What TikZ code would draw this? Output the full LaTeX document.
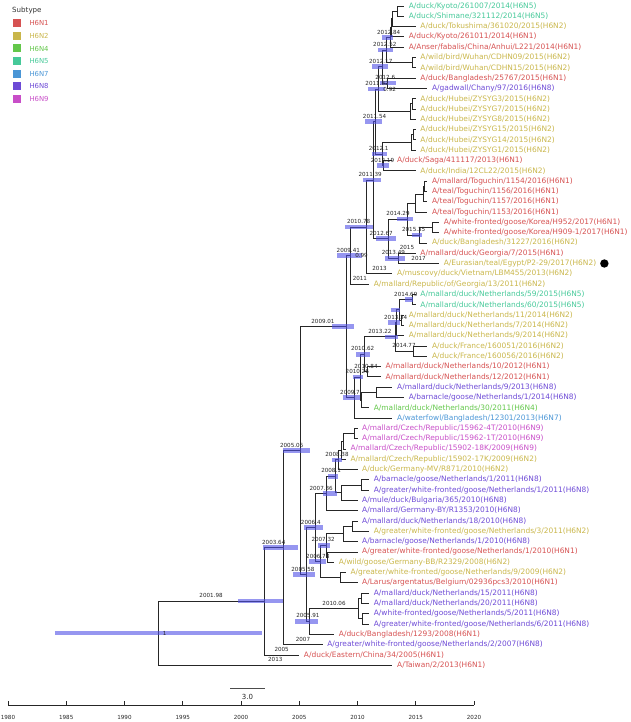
\documentclass[tikz,border=0pt]{standalone}
\usepackage{fontspec}
\setmainfont{DejaVu Sans}
\usetikzlibrary{calc}
\definecolor{hn1}{RGB}{214,82,82}
\definecolor{hn2}{RGB}{201,182,74}
\definecolor{hn4}{RGB}{99,199,74}
\definecolor{hn5}{RGB}{70,201,153}
\definecolor{hn7}{RGB}{74,150,214}
\definecolor{hn8}{RGB}{109,74,214}
\definecolor{hn9}{RGB}{200,78,200}
\definecolor{hpdblue}{RGB}{80,80,230}
% year -> horizontal position
\newcommand\yx[1]{8+11.65*(#1-1980)}
\tikzset{
  br/.style={draw=black!85, line width=0.8pt},
  hpd/.style={draw=hpdblue, line width=4.5pt, draw opacity=0.6},
  tip/.style={anchor=west, inner sep=0pt, xshift=4.5pt, font=\fontsize{7.45}{8}\selectfont},
  date/.style={anchor=south, inner sep=0pt, yshift=3.2pt, text=black!85, font=\fontsize{5.6}{6}\selectfont},
  post/.style={anchor=west, inner sep=0pt, xshift=4.5pt, text=black!85, font=\fontsize{5.6}{6}\selectfont},
}
\begin{document}
\begin{tikzpicture}[x=1pt,y=-1pt]
\useasboundingbox (0,0) rectangle (631,722);
% legend
\node[anchor=west, inner sep=0pt, text=black!80, font=\fontsize{7.1}{8}\selectfont] (leg) at (12,11) {Subtype};
\foreach \c/\lab [count=\k] in {hn1/H6N1, hn2/H6N2, hn4/H6N4, hn5/H6N5, hn7/H6N7, hn8/H6N8, hn9/H6N9} {
  \fill[\c] (12.5,{19.3+12.6*(\k-1)}) rectangle ++(8,8);
  \node[anchor=west, inner sep=0pt, text=\c, font=\fontsize{6.9}{8}\selectfont] (leg\k) at (29.3,{23.3+12.6*(\k-1)}) {\lab};
}
% tips
\coordinate (t1) at ({\yx{2014}},6.0); \node[tip,hn5] (l1) at (t1) {A/duck/Kyoto/261007/2014(H6N5)};
\coordinate (t2) at ({\yx{2014}},16.3); \node[tip,hn5] (l2) at (t2) {A/duck/Shimane/321112/2014(H6N5)};
\coordinate (t3) at ({\yx{2015}},26.6); \node[tip,hn2] (l3) at (t3) {A/duck/Tokushima/361020/2015(H6N2)};
\coordinate (t4) at ({\yx{2014}},36.9); \node[tip,hn1] (l4) at (t4) {A/duck/Kyoto/261011/2014(H6N1)};
\coordinate (t5) at ({\yx{2014}},47.2); \node[tip,hn1] (l5) at (t5) {A/Anser/fabalis/China/Anhui/L221/2014(H6N1)};
\coordinate (t6) at ({\yx{2015}},57.5); \node[tip,hn2] (l6) at (t6) {A/wild/bird/Wuhan/CDHN09/2015(H6N2)};
\coordinate (t7) at ({\yx{2015}},67.8); \node[tip,hn2] (l7) at (t7) {A/wild/bird/Wuhan/CDHN15/2015(H6N2)};
\coordinate (t8) at ({\yx{2015}},78.1); \node[tip,hn1] (l8) at (t8) {A/duck/Bangladesh/25767/2015(H6N1)};
\coordinate (t9) at ({\yx{2016}},88.4); \node[tip,hn8] (l9) at (t9) {A/gadwall/Chany/97/2016(H6N8)};
\coordinate (t10) at ({\yx{2015}},98.7); \node[tip,hn2] (l10) at (t10) {A/duck/Hubei/ZYSYG3/2015(H6N2)};
\coordinate (t11) at ({\yx{2015}},109.0); \node[tip,hn2] (l11) at (t11) {A/duck/Hubei/ZYSYG7/2015(H6N2)};
\coordinate (t12) at ({\yx{2015}},119.3); \node[tip,hn2] (l12) at (t12) {A/duck/Hubei/ZYSYG8/2015(H6N2)};
\coordinate (t13) at ({\yx{2015}},129.6); \node[tip,hn2] (l13) at (t13) {A/duck/Hubei/ZYSYG15/2015(H6N2)};
\coordinate (t14) at ({\yx{2015}},139.9); \node[tip,hn2] (l14) at (t14) {A/duck/Hubei/ZYSYG14/2015(H6N2)};
\coordinate (t15) at ({\yx{2015}},150.2); \node[tip,hn2] (l15) at (t15) {A/duck/Hubei/ZYSYG1/2015(H6N2)};
\coordinate (t16) at ({\yx{2013}},160.5); \node[tip,hn1] (l16) at (t16) {A/duck/Saga/411117/2013(H6N1)};
\coordinate (t17) at ({\yx{2015}},170.8); \node[tip,hn2] (l17) at (t17) {A/duck/India/12CL22/2015(H6N2)};
\coordinate (t18) at ({\yx{2016}},181.1); \node[tip,hn1] (l18) at (t18) {A/mallard/Toguchin/1154/2016(H6N1)};
\coordinate (t19) at ({\yx{2016}},191.4); \node[tip,hn1] (l19) at (t19) {A/teal/Toguchin/1156/2016(H6N1)};
\coordinate (t20) at ({\yx{2016}},201.7); \node[tip,hn1] (l20) at (t20) {A/teal/Toguchin/1157/2016(H6N1)};
\coordinate (t21) at ({\yx{2016}},212.0); \node[tip,hn1] (l21) at (t21) {A/teal/Toguchin/1153/2016(H6N1)};
\coordinate (t22) at ({\yx{2017}},222.3); \node[tip,hn1] (l22) at (t22) {A/white-fronted/goose/Korea/H952/2017(H6N1)};
\coordinate (t23) at ({\yx{2017}},232.6); \node[tip,hn1] (l23) at (t23) {A/white-fronted/goose/Korea/H909-1/2017(H6N1)};
\coordinate (t24) at ({\yx{2016}},242.9); \node[tip,hn2] (l24) at (t24) {A/duck/Bangladesh/31227/2016(H6N2)};
\coordinate (t25) at ({\yx{2015}},253.2); \node[tip,hn1] (l25) at (t25) {A/mallard/duck/Georgia/7/2015(H6N1)};
\coordinate (t26) at ({\yx{2017}},263.5); \node[tip,hn2] (l26) at (t26) {A/Eurasian/teal/Egypt/P2-29/2017(H6N2)};
\coordinate (t27) at ({\yx{2013}},273.8); \node[tip,hn2] (l27) at (t27) {A/muscovy/duck/Vietnam/LBM455/2013(H6N2)};
\coordinate (t28) at ({\yx{2011}},284.1); \node[tip,hn2] (l28) at (t28) {A/mallard/Republic/of/Georgia/13/2011(H6N2)};
\coordinate (t29) at ({\yx{2015}},294.4); \node[tip,hn5] (l29) at (t29) {A/mallard/duck/Netherlands/59/2015(H6N5)};
\coordinate (t30) at ({\yx{2015}},304.7); \node[tip,hn5] (l30) at (t30) {A/mallard/duck/Netherlands/60/2015(H6N5)};
\coordinate (t31) at ({\yx{2014}},315.0); \node[tip,hn2] (l31) at (t31) {A/mallard/duck/Netherlands/11/2014(H6N2)};
\coordinate (t32) at ({\yx{2014}},325.3); \node[tip,hn2] (l32) at (t32) {A/mallard/duck/Netherlands/7/2014(H6N2)};
\coordinate (t33) at ({\yx{2014}},335.6); \node[tip,hn2] (l33) at (t33) {A/mallard/duck/Netherlands/9/2014(H6N2)};
\coordinate (t34) at ({\yx{2016}},345.9); \node[tip,hn2] (l34) at (t34) {A/duck/France/160051/2016(H6N2)};
\coordinate (t35) at ({\yx{2016}},356.2); \node[tip,hn2] (l35) at (t35) {A/duck/France/160056/2016(H6N2)};
\coordinate (t36) at ({\yx{2012}},366.5); \node[tip,hn1] (l36) at (t36) {A/mallard/duck/Netherlands/10/2012(H6N1)};
\coordinate (t37) at ({\yx{2012}},376.8); \node[tip,hn1] (l37) at (t37) {A/mallard/duck/Netherlands/12/2012(H6N1)};
\coordinate (t38) at ({\yx{2013}},387.1); \node[tip,hn8] (l38) at (t38) {A/mallard/duck/Netherlands/9/2013(H6N8)};
\coordinate (t39) at ({\yx{2014}},397.4); \node[tip,hn8] (l39) at (t39) {A/barnacle/goose/Netherlands/1/2014(H6N8)};
\coordinate (t40) at ({\yx{2011}},407.7); \node[tip,hn4] (l40) at (t40) {A/mallard/duck/Netherlands/30/2011(H6N4)};
\coordinate (t41) at ({\yx{2013}},418.0); \node[tip,hn7] (l41) at (t41) {A/waterfowl/Bangladesh/12301/2013(H6N7)};
\coordinate (t42) at ({\yx{2010}},428.3); \node[tip,hn9] (l42) at (t42) {A/mallard/Czech/Republic/15962-4T/2010(H6N9)};
\coordinate (t43) at ({\yx{2010}},438.6); \node[tip,hn9] (l43) at (t43) {A/mallard/Czech/Republic/15962-1T/2010(H6N9)};
\coordinate (t44) at ({\yx{2009}},448.9); \node[tip,hn9] (l44) at (t44) {A/mallard/Czech/Republic/15902-18K/2009(H6N9)};
\coordinate (t45) at ({\yx{2009}},459.2); \node[tip,hn2] (l45) at (t45) {A/mallard/Czech/Republic/15902-17K/2009(H6N2)};
\coordinate (t46) at ({\yx{2010}},469.5); \node[tip,hn2] (l46) at (t46) {A/duck/Germany-MV/R871/2010(H6N2)};
\coordinate (t47) at ({\yx{2011}},479.8); \node[tip,hn8] (l47) at (t47) {A/barnacle/goose/Netherlands/1/2011(H6N8)};
\coordinate (t48) at ({\yx{2011}},490.1); \node[tip,hn8] (l48) at (t48) {A/greater/white-fronted/goose/Netherlands/1/2011(H6N8)};
\coordinate (t49) at ({\yx{2010}},500.4); \node[tip,hn8] (l49) at (t49) {A/mule/duck/Bulgaria/365/2010(H6N8)};
\coordinate (t50) at ({\yx{2010}},510.7); \node[tip,hn8] (l50) at (t50) {A/mallard/Germany-BY/R1353/2010(H6N8)};
\coordinate (t51) at ({\yx{2010}},521.0); \node[tip,hn8] (l51) at (t51) {A/mallard/duck/Netherlands/18/2010(H6N8)};
\coordinate (t52) at ({\yx{2011}},531.3); \node[tip,hn2] (l52) at (t52) {A/greater/white-fronted/goose/Netherlands/3/2011(H6N2)};
\coordinate (t53) at ({\yx{2010}},541.6); \node[tip,hn8] (l53) at (t53) {A/barnacle/goose/Netherlands/1/2010(H6N8)};
\coordinate (t54) at ({\yx{2010}},551.9); \node[tip,hn1] (l54) at (t54) {A/greater/white-fronted/goose/Netherlands/1/2010(H6N1)};
\coordinate (t55) at ({\yx{2008}},562.2); \node[tip,hn2] (l55) at (t55) {A/wild/goose/Germany-BB/R2329/2008(H6N2)};
\coordinate (t56) at ({\yx{2009}},572.5); \node[tip,hn2] (l56) at (t56) {A/greater/white-fronted/goose/Netherlands/9/2009(H6N2)};
\coordinate (t57) at ({\yx{2010}},582.8); \node[tip,hn1] (l57) at (t57) {A/Larus/argentatus/Belgium/02936pcs3/2010(H6N1)};
\coordinate (t58) at ({\yx{2011}},593.1); \node[tip,hn8] (l58) at (t58) {A/mallard/duck/Netherlands/15/2011(H6N8)};
\coordinate (t59) at ({\yx{2011}},603.4); \node[tip,hn8] (l59) at (t59) {A/mallard/duck/Netherlands/20/2011(H6N8)};
\coordinate (t60) at ({\yx{2011}},613.7); \node[tip,hn8] (l60) at (t60) {A/white-fronted/goose/Netherlands/5/2011(H6N8)};
\coordinate (t61) at ({\yx{2011}},624.0); \node[tip,hn8] (l61) at (t61) {A/greater/white-fronted/goose/Netherlands/6/2011(H6N8)};
\coordinate (t62) at ({\yx{2008}},634.3); \node[tip,hn1] (l62) at (t62) {A/duck/Bangladesh/1293/2008(H6N1)};
\coordinate (t63) at ({\yx{2007}},644.6); \node[tip,hn8] (l63) at (t63) {A/greater/white-fronted/goose/Netherlands/2/2007(H6N8)};
\coordinate (t64) at ({\yx{2005}},654.9); \node[tip,hn1] (l64) at (t64) {A/duck/Eastern/China/34/2005(H6N1)};
\coordinate (t65) at ({\yx{2013}},665.2); \node[tip,hn1] (l65) at (t65) {A/Taiwan/2/2013(H6N1)};
\node[circle, fill=black, inner sep=0pt, minimum size=8.4pt] (egdot) at ([xshift=8pt]l26.east) {};
% internal nodes
\coordinate (a12) at ({\yx{2013.42}},11.15);
\coordinate (a123) at ({\yx{2013.02}},18.88);
\coordinate (a1234) at ({\yx{2012.92}},27.89);
\coordinate (n2012p84) at ({\yx{2012.84}},37.54);
\coordinate (a67) at ({\yx{2014.74}},62.65);
\coordinate (n2012p52) at ({\yx{2012.52}},50.10);
\coordinate (n2012p6) at ({\yx{2012.6}},83.25);
\coordinate (n2012p17) at ({\yx{2012.17}},66.68);
\coordinate (a1011) at ({\yx{2014.72}},103.85);
\coordinate (a1012) at ({\yx{2014.57}},111.58);
\coordinate (n2011p82) at ({\yx{2011.82}},89.13);
\coordinate (a1314) at ({\yx{2014.76}},134.75);
\coordinate (a1315) at ({\yx{2014.65}},142.48);
\coordinate (n2012p19) at ({\yx{2012.19}},165.65);
\coordinate (n2012p1) at ({\yx{2012.1}},154.06);
\coordinate (n2011p54) at ({\yx{2011.54}},121.60);
\coordinate (tog12) at ({\yx{2015.75}},186.25);
\coordinate (tog123) at ({\yx{2015.65}},193.98);
\coordinate (tog) at ({\yx{2014.95}},202.99);
\coordinate (kor) at ({\yx{2016.42}},227.45);
\coordinate (n2015p35) at ({\yx{2015.35}},235.18);
\coordinate (n2014p29) at ({\yx{2014.29}},219.08);
\coordinate (n2013p49) at ({\yx{2013.49}},258.35);
\coordinate (n2012p67) at ({\yx{2012.67}},238.72);
\coordinate (n2011p39) at ({\yx{2011.39}},180.16);
\coordinate (n2010p78) at ({\yx{2010.78}},226.98);
\coordinate (n2009p41) at ({\yx{2009.41}},255.54);
\coordinate (n2014p69) at ({\yx{2014.69}},299.55);
\coordinate (a3132) at ({\yx{2013.8}},320.15);
\coordinate (u) at ({\yx{2013.6}},309.85);
\coordinate (n2013p34) at ({\yx{2013.34}},322.73);
\coordinate (n2014p77) at ({\yx{2014.77}},351.05);
\coordinate (n2013p22) at ({\yx{2013.22}},336.89);
\coordinate (n2010p84) at ({\yx{2010.84}},371.65);
\coordinate (n2010p62) at ({\yx{2010.62}},354.27);
\coordinate (a3839) at ({\yx{2011.6}},392.25);
\coordinate (z) at ({\yx{2010.32}},399.98);
\coordinate (n2010p26) at ({\yx{2010.26}},377.13);
\coordinate (n2009p7) at ({\yx{2009.7}},397.56);
\coordinate (n2009p01) at ({\yx{2009.01}},326.55);
\coordinate (c4243) at ({\yx{2009.73}},433.45);
\coordinate (c4244) at ({\yx{2008.78}},441.18);
\coordinate (c4245) at ({\yx{2008.64}},450.19);
\coordinate (n2008p38) at ({\yx{2008.38}},459.84);
\coordinate (a4748) at ({\yx{2010.36}},484.95);
\coordinate (a4749) at ({\yx{2008.64}},492.68);
\coordinate (n2008p1) at ({\yx{2008.1}},476.26);
\coordinate (n2007p36) at ({\yx{2007.36}},493.48);
\coordinate (a5152) at ({\yx{2009.53}},526.15);
\coordinate (a5153) at ({\yx{2008.76}},533.88);
\coordinate (a5455) at ({\yx{2007.45}},557.05);
\coordinate (n2007p32) at ({\yx{2007.32}},545.47);
\coordinate (a5657) at ({\yx{2008.5}},577.65);
\coordinate (n2006p78) at ({\yx{2006.78}},561.56);
\coordinate (n2006p4) at ({\yx{2006.4}},527.52);
\coordinate (a5859) at ({\yx{2010.34}},598.25);
\coordinate (a6061) at ({\yx{2010.39}},618.85);
\coordinate (n2010p06) at ({\yx{2010.06}},608.55);
\coordinate (n2005p91) at ({\yx{2005.91}},621.43);
\coordinate (n2005p58) at ({\yx{2005.58}},574.48);
\coordinate (n2005p06) at ({\yx{2005.06}},450.52);
\coordinate (n2003p64) at ({\yx{2003.64}},547.56);
\coordinate (n2001p98) at ({\yx{2001.98}},601.23);
\coordinate (root) at ({\yx{1992.88}},633.2);
% branches
\foreach \p/\c in {root/n2001p98, root/t65, n2001p98/n2003p64, n2001p98/t64, n2003p64/n2005p06, n2003p64/t63,
  n2005p06/n2009p01, n2005p06/n2005p58, n2005p58/n2006p4, n2005p58/n2005p91, n2005p91/n2010p06, n2005p91/t62,
  n2010p06/a5859, n2010p06/a6061, a5859/t58, a5859/t59, a6061/t60, a6061/t61,
  n2006p4/n2007p36, n2006p4/n2006p78, n2006p78/n2007p32, n2006p78/a5657, a5657/t56, a5657/t57,
  n2007p32/a5153, n2007p32/a5455, a5455/t54, a5455/t55, a5153/a5152, a5153/t53, a5152/t51, a5152/t52,
  n2007p36/n2008p1, n2007p36/t50, n2008p1/n2008p38, n2008p1/a4749, a4749/a4748, a4749/t49, a4748/t47, a4748/t48,
  n2008p38/c4245, n2008p38/t46, c4245/c4244, c4245/t45, c4244/c4243, c4244/t44, c4243/t42, c4243/t43,
  n2009p01/n2009p41, n2009p01/n2009p7, n2009p7/n2010p26, n2009p7/t41, n2010p26/n2010p62, n2010p26/z,
  z/a3839, z/t40, a3839/t38, a3839/t39, n2010p62/n2013p22, n2010p62/n2010p84, n2010p84/t36, n2010p84/t37,
  n2013p22/n2013p34, n2013p22/n2014p77, n2014p77/t34, n2014p77/t35, n2013p34/u, n2013p34/t33,
  u/n2014p69, u/a3132, n2014p69/t29, n2014p69/t30, a3132/t31, a3132/t32,
  n2009p41/n2010p78, n2009p41/t28, n2010p78/n2011p39, n2010p78/t27, n2011p39/n2011p54, n2011p39/n2012p67,
  n2012p67/n2014p29, n2012p67/n2013p49, n2013p49/t25, n2013p49/t26, n2014p29/tog, n2014p29/n2015p35,
  n2015p35/kor, n2015p35/t24, kor/t22, kor/t23, tog/tog123, tog/t21, tog123/tog12, tog123/t20, tog12/t18, tog12/t19,
  n2011p54/n2011p82, n2011p54/n2012p1, n2012p1/a1315, n2012p1/n2012p19, n2012p19/t16, n2012p19/t17,
  a1315/a1314, a1315/t15, a1314/t13, a1314/t14, n2011p82/n2012p17, n2011p82/a1012, a1012/a1011, a1012/t12,
  a1011/t10, a1011/t11, n2012p17/n2012p52, n2012p17/n2012p6, n2012p6/t8, n2012p6/t9,
  n2012p52/n2012p84, n2012p52/a67, a67/t6, a67/t7, n2012p84/a1234, n2012p84/t5,
  a1234/a123, a1234/t4, a123/a12, a123/t3, a12/t1, a12/t2}
  \draw[br] (\p) |- (\c);
% HPD bars
\foreach \nd/\a/\b in {n2012p84/2012.08/2013.05, n2012p52/2011.76/2013.02, n2012p17/2011.24/2012.62,
  n2012p6/2011.93/2013.30, n2011p82/2010.90/2012.36, n2011p54/2010.64/2012.10, n2012p1/2011.24/2012.53,
  n2012p19/2011.67/2012.70, n2011p39/2010.47/2012.02, n2010p78/2008.93/2011.33, n2014p29/2013.39/2014.76,
  n2012p67/2011.59/2013.30, n2015p35/2014.65/2015.51, n2013p49/2012.36/2014.08, n2009p41/2008.27/2010.36,
  n2009p01/2007.79/2009.70, n2014p69/2014.08/2014.76, u/2012.85/2013.65, n2013p34/2012.62/2013.65,
  n2013p22/2012.36/2013.48, n2010p62/2009.87/2011.07, n2010p26/2009.59/2010.50, n2009p7/2008.73/2010.21,
  n2005p06/2003.61/2005.92, n2008p38/2007.79/2008.64, n2008p1/2007.47/2008.33, n2007p36/2007.01/2008.21,
  n2006p4/2005.41/2007.06, n2007p32/2006.61/2007.64, n2006p78/2005.84/2007.30, n2005p58/2004.44/2006.35,
  n2003p64/2001.89/2004.89, n2001p98/1999.74/2003.58, n2005p91/2004.64/2006.64, root/1984.03/2001.80}
  \draw[hpd] ({\yx{\a}},0 |- \nd) -- ({\yx{\b}},0 |- \nd);
% node dates
\foreach \p/\nd/\lab in {n2012p52/n2012p84/2012.84, n2012p17/n2012p52/2012.52, n2011p82/n2012p17/2012.17,
  n2012p17/n2012p6/2012.6, n2011p54/n2011p82/2011.82, n2011p39/n2011p54/2011.54, n2011p54/n2012p1/2012.1,
  n2012p1/n2012p19/2012.19, n2010p78/n2011p39/2011.39, n2009p41/n2010p78/2010.78, n2011p39/n2012p67/2012.67,
  n2012p67/n2014p29/2014.29, n2014p29/n2015p35/2015.35, n2012p67/n2013p49/2013.49, n2009p01/n2009p41/2009.41,
  n2005p06/n2009p01/2009.01, u/n2014p69/2014.69, n2013p22/n2013p34/2013.34, n2010p62/n2013p22/2013.22,
  n2013p22/n2014p77/2014.77, n2010p26/n2010p62/2010.62, n2010p62/n2010p84/2010.84, n2009p7/n2010p26/2010.26,
  n2009p01/n2009p7/2009.7, n2003p64/n2005p06/2005.06, n2008p1/n2008p38/2008.38, n2007p36/n2008p1/2008.1,
  n2006p4/n2007p36/2007.36, n2005p58/n2006p4/2006.4, n2006p78/n2007p32/2007.32, n2006p4/n2006p78/2006.78,
  n2005p06/n2005p58/2005.58, n2001p98/n2003p64/2003.64, root/n2001p98/2001.98, n2005p91/n2010p06/2010.06,
  n2005p58/n2005p91/2005.91, root/t65/2013, n2001p98/t64/2005, n2003p64/t63/2007, n2009p41/t28/2011,
  n2010p78/t27/2013, n2013p49/t25/2015, n2013p49/t26/2017}
  \node[date] (d\nd) at ($(\p |- \nd)!.5!(\nd)$) {\lab};
% posteriors
\node[post] (proot) at (root) {1};
\node[post] (p2009p41) at (n2009p41) {0.99};
\node[post] (p2011p82) at (n2011p82) {0.92};
% scale bar
\coordinate (sbl) at (230,688);
\coordinate (sbr) at (265,688);
\draw[line width=1pt, black!70] (sbl) -- (sbr);
\node[inner sep=0pt, text=black!85, font=\fontsize{7}{8}\selectfont] (sbt) at (247.5,697) {3.0};
% time axis
\coordinate (ax0) at ({\yx{1980}},705);
\coordinate (ax1) at ({\yx{2020}},705);
\draw[black!85, line width=0.6pt] (ax0) -- (ax1);
\foreach \yr in {1980,1985,...,2020} {
  \draw[black!85, line width=0.6pt] ({\yx{\yr}},705) -- ++(0,-4);
  \node[inner sep=0pt, text=black!85, font=\fontsize{5.6}{6}\selectfont] (ax\yr) at ({\yx{\yr}},717) {\yr};
}
\end{tikzpicture}
\end{document}
